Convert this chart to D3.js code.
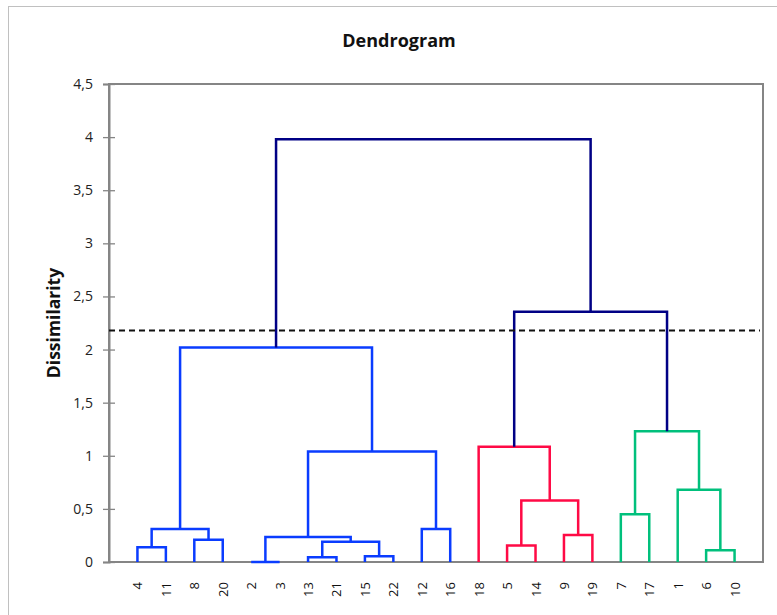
<!DOCTYPE html>
<html>
<head>
<meta charset="utf-8">
<script src="https://d3js.org/d3.v7.min.js"></script>
<style>
  body { margin: 0; background: #fff; }
  svg { display: block; font-family: "Open Sans", Lato, sans-serif; }
</style>
</head>
<body>
<div id="chart"></div>
<script>
var width = 777,
    height = 615,
    plotLeft = 109,
    plotRight = 763,
    plotTop = 84,
    plotBottom = 562;

// leaf order along the x axis
var leaves = ["4", "11", "8", "20", "2", "3", "13", "21", "15", "22", "12", "16",
              "18", "5", "14", "9", "19", "7", "17", "1", "6", "10"];

// merges: m0..m20, children are leaf labels or earlier merges
var mergeLeft   = ["4", "8", "m0", "2", "13", "15", "m4", "m3", "12", "m7", "m2",
                   "5", "9", "m11", "18", "7", "6", "1", "m15", "m14", "m10"];
var mergeRight  = ["11", "20", "m1", "3", "21", "22", "m5", "m6", "16", "m8", "m9",
                   "14", "19", "m12", "m13", "17", "10", "m16", "m17", "m18", "m19"];
var mergeHeight = [0.14, 0.21, 0.31, 0, 0.045, 0.055, 0.19, 0.235, 0.31, 1.04, 2.02,
                   0.155, 0.255, 0.58, 1.085, 0.45, 0.11, 0.68, 1.23, 2.355, 3.98];
var mergeGroup  = ["C1", "C1", "C1", "C1", "C1", "C1", "C1", "C1", "C1", "C1", "C1",
                   "C2", "C2", "C2", "C2", "C3", "C3", "C3", "C3", "top", "top"];

var cutLevel = 2.18;
var yTicks = [0, 0.5, 1, 1.5, 2, 2.5, 3, 3.5, 4, 4.5];

var color = d3.scaleOrdinal()
  .domain(["C1", "C2", "C3", "top"])
  .range(["#0a3cff", "#ff0a45", "#00c07c", "#000085"]);

var x = d3.scalePoint()
  .domain(leaves)
  .range([plotLeft, plotRight])
  .padding(1);

var y = d3.scaleLinear()
  .domain([0, 4.5])
  .range([plotBottom, plotTop]);

var fmt = d3.formatLocale({ decimal: ",", thousands: ".", grouping: [3], currency: ["", ""] }).format("~g");

// positions of every node
var pos = {};
leaves.forEach(function (d) { pos[d] = { x: x(d), h: 0 }; });
var links = [];
mergeLeft.forEach(function (l, i) {
  var a = pos[l], b = pos[mergeRight[i]], h = mergeHeight[i];
  pos["m" + i] = { x: (a.x + b.x) / 2, h: h };
  links.push({ a: a, b: b, h: h, group: mergeGroup[i] });
});

var svg = d3.select("#chart").append("svg")
  .attr("width", width)
  .attr("height", height);

svg.append("rect")
  .attr("x", 8.5).attr("y", 6.5)
  .attr("width", 900).attr("height", 800)
  .attr("fill", "none")
  .attr("stroke", "#c0c0c0")
  .attr("stroke-width", 1);

svg.append("text")
  .attr("x", 399)
  .attr("y", 47)
  .attr("text-anchor", "middle")
  .attr("font-size", 18)
  .attr("font-weight", "bold")
  .attr("fill", "#111")
  .text("Dendrogram");

// plot frame
svg.append("rect")
  .attr("x", plotLeft).attr("y", plotTop)
  .attr("width", plotRight - plotLeft).attr("height", plotBottom - plotTop)
  .attr("fill", "none")
  .attr("stroke", "#858585")
  .attr("stroke-width", 2);

var yAxis = svg.append("g")
  .attr("transform", "translate(" + plotLeft + ",0)")
  .call(d3.axisLeft(y).tickValues(yTicks).tickFormat(fmt).tickSize(6).tickPadding(10));

yAxis.select(".domain").attr("stroke", "#858585").attr("stroke-width", 2);
yAxis.selectAll(".tick line")
  .attr("x1", -6).attr("x2", 6)
  .attr("stroke", "#858585").attr("stroke-width", 1.3);
yAxis.selectAll(".tick text")
  .attr("font-size", 14)
  .attr("fill", "#222")
  .attr("font-family", "'Open Sans', sans-serif");

svg.append("text")
  .attr("transform", "translate(53," + ((plotTop + plotBottom) / 2) + ") rotate(-90)")
  .attr("text-anchor", "middle")
  .attr("dominant-baseline", "central")
  .attr("font-size", 17.5)
  .attr("font-weight", "bold")
  .attr("fill", "#111")
  .text("Dissimilarity");

// leaf labels
svg.append("g").selectAll("text")
  .data(leaves)
  .enter().append("text")
  .attr("transform", function (d) { return "translate(" + x(d) + ",582) rotate(-90)"; })
  .attr("text-anchor", "end")
  .attr("dominant-baseline", "central")
  .attr("font-size", 13)
  .attr("fill", "#111")
  .text(function (d) { return d; });

// dendrogram links
svg.append("g").selectAll("path")
  .data(links)
  .enter().append("path")
  .attr("fill", "none")
  .attr("stroke", function (d) { return color(d.group); })
  .attr("stroke-width", 2.5)
  .attr("d", function (d) {
    return "M" + d.a.x + "," + y(d.a.h) +
      "V" + y(d.h) + "H" + d.b.x + "V" + y(d.b.h);
  });

// cut line
svg.append("line")
  .attr("x1", plotLeft).attr("x2", plotRight - 3)
  .attr("y1", y(cutLevel)).attr("y2", y(cutLevel))
  .attr("stroke", "#111")
  .attr("stroke-width", 2)
  .attr("stroke-dasharray", "6,4");
</script>
</body>
</html>
